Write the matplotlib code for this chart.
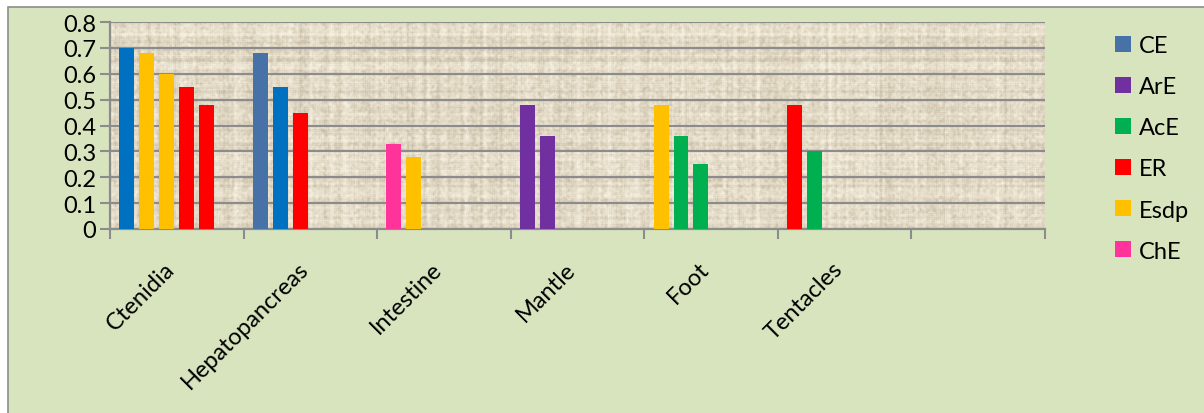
import matplotlib.pyplot as plt
import numpy as np
from matplotlib.patches import Patch, Rectangle

# data
categories = ["Ctenidia", "Hepatopancreas", "Intestine", "Mantle", "Foot", "Tentacles", ""]
ctenidia = [0.70, 0.68, 0.60, 0.55, 0.48]
hepatopancreas = [0.68, 0.55, 0.45]
intestine = [0.33, 0.28]
mantle = [0.48, 0.36]
foot = [0.48, 0.36, 0.25]
tentacles = [0.48, 0.30]
legend_labels = ["CE", "ArE", "AcE", "ER", "Esdp", "ChE"]

# colours
BLUE = "#0070C0"
STEEL = "#4672A8"
PURPLE = "#7030A0"
GREEN = "#00B050"
RED = "#FF0000"
YELLOW = "#FFC000"
PINK = "#FF3399"
legend_colors = [STEEL, PURPLE, GREEN, RED, YELLOW, PINK]
bar_colors = [
    [BLUE, YELLOW, YELLOW, RED, RED],
    [STEEL, BLUE, RED],
    [PINK, YELLOW],
    [PURPLE, PURPLE],
    [YELLOW, GREEN, GREEN],
    [RED, GREEN],
]
groups = [ctenidia, hepatopancreas, intestine, mantle, foot, tentacles]

plt.rcParams['font.family'] = ['Lato', 'DejaVu Sans']

W, H = 1204, 414
fig = plt.figure(figsize=(W / 100, H / 100), dpi=100)
fig.patch.set_facecolor("white")
# chart area frame
fig.patches.append(Rectangle((8 / W, -0.01), 1.0, (H - 7.5) / H + 0.01, transform=fig.transFigure,
                             facecolor="#D8E4BE", edgecolor="#8C8C8C", linewidth=1.2, zorder=0))

ax = fig.add_axes([110 / W, (H - 230) / H, (1045 - 110) / W, (230 - 23) / H])
ax.set_zorder(1)

# papyrus-like texture for the plot area (purely decorative)
rng = np.random.default_rng(3)
th, tw = 207, 935
tex = rng.normal(0, 1, (th, tw)) * 0.7
tex += rng.normal(0, 1, (th, 1)) * 0.35
tex += rng.normal(0, 1, (1, tw)) * 0.35
k = np.ones(3) / 3
tex = np.apply_along_axis(lambda r: np.convolve(r, k, mode="same"), 1, tex)
tex = np.apply_along_axis(lambda c: np.convolve(c, k, mode="same"), 0, tex) * 1.6
base = np.array([0.890, 0.855, 0.775])
light = np.array([0.960, 0.935, 0.875])
dark = np.array([0.790, 0.750, 0.670])
t = np.clip(tex, -1.5, 1.5) / 1.5
img = np.where(t[..., None] > 0, base + (light - base) * t[..., None], base + (base - dark) * t[..., None])
ax.imshow(np.clip(img, 0, 1), extent=(0, len(categories), 0, 0.8), aspect="auto",
          interpolation="bilinear", zorder=0)

bw = 0.112
pitch = 0.149
off = 0.07
for i, (vals, cols) in enumerate(zip(groups, bar_colors)):
    for j, (v, c) in enumerate(zip(vals, cols)):
        ax.bar(i + off + j * pitch, v, width=bw, align="edge", color=c, zorder=3)

ax.set_xlim(0, len(categories))
ax.set_ylim(0, 0.8)
ax.set_yticks(np.arange(0, 0.81, 0.1))
ax.set_yticklabels(["0"] + ["%.1f" % v for v in np.arange(0.1, 0.81, 0.1)], fontsize=17)
ax.yaxis.grid(True, color="#8C8C8C", linewidth=1.6, zorder=1)
ax.set_axisbelow(True)

ax.set_xticks(np.arange(0, len(categories) + 1))
ax.set_xticklabels([])
ax.tick_params(axis="x", direction="out", length=7, width=1.5, color="#8C8C8C")
ax.tick_params(axis="y", direction="out", length=7, width=1.5, color="#8C8C8C", pad=3)

for i, name in enumerate(categories):
    ax.annotate(name, xy=(i + 0.5, 0), xycoords=("data", "axes fraction"),
                xytext=(-4, -26), textcoords="offset points", rotation=45,
                rotation_mode="anchor", ha="right", va="center", fontsize=17)

for s in ["top", "right"]:
    ax.spines[s].set_visible(False)
for s in ["left", "bottom"]:
    ax.spines[s].set_color("#8C8C8C")
    ax.spines[s].set_linewidth(1.6)

handles = [Patch(facecolor=c, edgecolor="none") for c in legend_colors]
fig.legend(handles, legend_labels, loc="upper left", bbox_to_anchor=(1094 / W, 1 - 15 / H),
           frameon=False, fontsize=17, handlelength=0.65, handleheight=0.65,
           handletextpad=0.35, labelspacing=0.85)

plt.savefig("out.png", dpi=100, facecolor=fig.get_facecolor())
